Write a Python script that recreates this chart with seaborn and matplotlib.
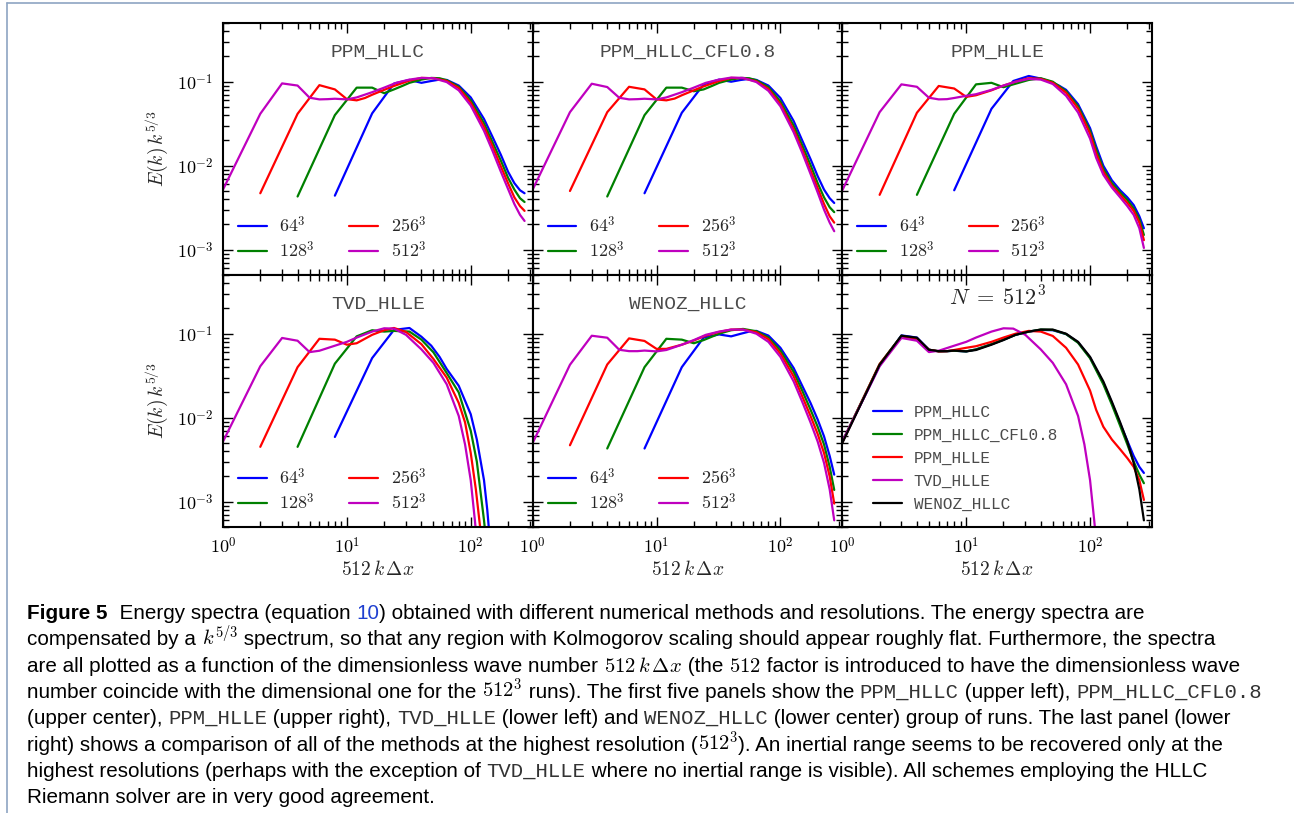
import numpy as np
import pandas as pd
import matplotlib
matplotlib.use("Agg")
import matplotlib.pyplot as plt
import seaborn as sns
from matplotlib.ticker import LogLocator, FuncFormatter, NullFormatter
from matplotlib.font_manager import FontProperties
from matplotlib.lines import Line2D

# ---------------------------------------------------------------------------
# Compensated energy spectra E(k) k^(5/3) versus 512 k dx
# ---------------------------------------------------------------------------

# PPM_HLLC
hllc_k64 = [8, 16, 24, 32, 40, 48, 56, 64, 80, 100, 128, 150, 175, 200, 225, 250, 272]
hllc_e64 = [0.0044, 0.042, 0.095, 0.105, 0.097, 0.102, 0.106, 0.105, 0.09, 0.065, 0.036, 0.022, 0.0135, 0.0085, 0.0062, 0.0051, 0.0047]
hllc_k128 = [4, 8, 12, 16, 20, 24, 28, 32, 40, 48, 56, 64, 80, 100, 128, 150, 175, 200, 225, 250, 272]
hllc_e128 = [0.0043, 0.040, 0.085, 0.085, 0.073, 0.081, 0.089, 0.097, 0.106, 0.111, 0.110, 0.104, 0.087, 0.06, 0.032, 0.019, 0.0115, 0.0072, 0.0052, 0.0041, 0.0037]
hllc_k256 = [2, 4, 6, 8, 10, 12, 14, 16, 20, 24, 32, 40, 50, 64, 80, 100, 128, 150, 175, 200, 225, 250, 272]
hllc_e256 = [0.0047, 0.0415, 0.091, 0.081, 0.062, 0.06, 0.064, 0.07, 0.08, 0.089, 0.103, 0.111, 0.11, 0.102, 0.084, 0.056, 0.029, 0.017, 0.0098, 0.0062, 0.0042, 0.0033, 0.0029]
hllc_k512 = [1, 2, 3, 4, 5, 6, 7, 8, 10, 12, 16, 20, 25, 32, 40, 50, 64, 80, 100, 128, 150, 175, 200, 225, 250, 272]
hllc_e512 = [0.0052, 0.0415, 0.0955, 0.090, 0.0645, 0.0616, 0.062, 0.0627, 0.0616, 0.065, 0.075, 0.085, 0.097, 0.106, 0.111, 0.11, 0.099, 0.079, 0.052, 0.026, 0.015, 0.0085, 0.0053, 0.0035, 0.0026, 0.0022]

# PPM_HLLC_CFL0.8
cfl_k64 = [8, 16, 24, 32, 40, 48, 56, 64, 80, 100, 128, 150, 175, 200, 225, 250, 272]
cfl_e64 = [0.0047, 0.0427, 0.093, 0.106, 0.1, 0.105, 0.108, 0.105, 0.09, 0.064, 0.034, 0.02, 0.012, 0.0075, 0.0052, 0.0041, 0.0036]
cfl_k128 = [4, 8, 12, 16, 20, 24, 28, 32, 40, 48, 56, 64, 80, 100, 128, 150, 175, 200, 225, 250, 272]
cfl_e128 = [0.0043, 0.040, 0.085, 0.085, 0.077, 0.081, 0.089, 0.097, 0.106, 0.111, 0.11, 0.104, 0.086, 0.058, 0.03, 0.0175, 0.0102, 0.0062, 0.0042, 0.0032, 0.0028]
cfl_k256 = [2, 4, 6, 8, 10, 12, 14, 16, 20, 24, 32, 40, 50, 64, 80, 100, 128, 150, 175, 200, 225, 250, 272]
cfl_e256 = [0.005, 0.0434, 0.087, 0.081, 0.0616, 0.06, 0.063, 0.069, 0.079, 0.088, 0.102, 0.111, 0.11, 0.101, 0.082, 0.054, 0.027, 0.0155, 0.0088, 0.0054, 0.0035, 0.0025, 0.0021]
cfl_k512 = [1, 2, 3, 4, 5, 6, 7, 8, 10, 12, 16, 20, 25, 32, 40, 50, 64, 80, 100, 128, 150, 175, 200, 225, 250, 272]
cfl_e512 = [0.0052, 0.0434, 0.0946, 0.0864, 0.0644, 0.0616, 0.062, 0.0627, 0.0616, 0.065, 0.075, 0.085, 0.097, 0.106, 0.112, 0.111, 0.099, 0.078, 0.051, 0.025, 0.0143, 0.008, 0.0048, 0.003, 0.0021, 0.00166]

# PPM_HLLE
hlle_k64 = [8, 16, 24, 32, 40, 48, 56, 64, 80, 100, 112, 128, 150, 175, 200, 225, 250, 272]
hlle_e64 = [0.0051, 0.0476, 0.102, 0.117, 0.109, 0.1, 0.09, 0.08, 0.054, 0.028, 0.017, 0.01, 0.0067, 0.0051, 0.0042, 0.0034, 0.0025, 0.0018]
hlle_k128 = [4, 8, 12, 16, 20, 24, 32, 40, 50, 64, 80, 100, 112, 128, 150, 175, 200, 225, 250, 272]
hlle_e128 = [0.0045, 0.0415, 0.093, 0.097, 0.086, 0.093, 0.105, 0.11, 0.1, 0.077, 0.051, 0.026, 0.0155, 0.0092, 0.0062, 0.0048, 0.0039, 0.0031, 0.0023, 0.0015]
hlle_k256 = [2, 4, 6, 8, 10, 12, 16, 20, 25, 32, 40, 50, 64, 80, 100, 112, 128, 150, 175, 200, 225, 250, 272]
hlle_e256 = [0.0045, 0.0427, 0.089, 0.083, 0.066, 0.069, 0.079, 0.09, 0.1, 0.11, 0.108, 0.097, 0.074, 0.048, 0.024, 0.014, 0.0085, 0.0058, 0.0045, 0.0036, 0.0029, 0.0021, 0.0013]
hlle_k512 = [1, 2, 3, 4, 5, 6, 7, 8, 10, 12, 16, 20, 25, 32, 40, 50, 64, 80, 100, 112, 128, 150, 175, 200, 225, 250, 272]
hlle_e512 = [0.0051, 0.0434, 0.093, 0.087, 0.0645, 0.0616, 0.062, 0.064, 0.068, 0.071, 0.08, 0.09, 0.1, 0.108, 0.106, 0.094, 0.068, 0.043, 0.021, 0.0124, 0.0078, 0.0055, 0.0042, 0.0033, 0.0026, 0.0018, 0.00105]

# TVD_HLLE
tvd_k64 = [8, 16, 24, 32, 40, 48, 56, 64, 80, 100, 112, 128, 136, 144]
tvd_e64 = [0.0059, 0.0513, 0.111, 0.117, 0.092, 0.072, 0.053, 0.038, 0.024, 0.011, 0.0055, 0.0018, 0.0008, 0.0003]
tvd_k128 = [4, 8, 12, 16, 20, 24, 32, 40, 50, 64, 80, 100, 112, 128, 136]
tvd_e128 = [0.0045, 0.044, 0.093, 0.11, 0.106, 0.108, 0.106, 0.085, 0.06, 0.034, 0.02, 0.007, 0.003, 0.0006, 0.00025]
tvd_k256 = [2, 4, 6, 8, 10, 12, 16, 20, 24, 30, 40, 50, 64, 80, 90, 100, 110, 120, 128]
tvd_e256 = [0.0045, 0.040, 0.087, 0.085, 0.074, 0.077, 0.097, 0.11, 0.117, 0.105, 0.075, 0.05, 0.03, 0.015, 0.0088, 0.0038, 0.0014, 0.00045, 0.00015]
tvd_k512 = [1, 2, 3, 4, 5, 6, 8, 10, 12, 16, 20, 24, 30, 40, 50, 64, 80, 90, 100, 108, 116]
tvd_e512 = [0.0052, 0.041, 0.089, 0.0825, 0.0604, 0.0627, 0.072, 0.08, 0.09, 0.106, 0.116, 0.115, 0.097, 0.065, 0.045, 0.025, 0.0105, 0.0048, 0.0018, 0.0006, 0.0002]

# WENOZ_HLLC
weno_k64 = [8, 16, 24, 32, 40, 48, 56, 64, 80, 100, 128, 150, 175, 200, 225, 250, 272]
weno_e64 = [0.0043, 0.040, 0.09, 0.098, 0.093, 0.1, 0.106, 0.108, 0.095, 0.068, 0.039, 0.024, 0.015, 0.0095, 0.006, 0.0035, 0.0021]
weno_k128 = [4, 8, 12, 16, 20, 24, 32, 40, 50, 64, 80, 100, 128, 150, 175, 200, 225, 250, 272]
weno_e128 = [0.0043, 0.040, 0.087, 0.085, 0.077, 0.084, 0.1, 0.11, 0.114, 0.107, 0.09, 0.063, 0.035, 0.021, 0.0125, 0.0078, 0.0048, 0.0026, 0.00138]
weno_k256 = [2, 4, 6, 8, 10, 12, 16, 20, 25, 32, 40, 50, 64, 80, 100, 128, 150, 175, 200, 225, 250, 272]
weno_e256 = [0.0047, 0.043, 0.088, 0.082, 0.066, 0.066, 0.074, 0.083, 0.095, 0.105, 0.112, 0.112, 0.104, 0.086, 0.058, 0.031, 0.018, 0.0105, 0.0064, 0.0038, 0.002, 0.00095]
weno_k512 = [1, 2, 3, 4, 5, 6, 7, 8, 10, 12, 16, 20, 25, 32, 40, 50, 64, 80, 100, 128, 150, 175, 200, 225, 250, 272]
weno_e512 = [0.005, 0.0427, 0.0946, 0.0896, 0.0644, 0.062, 0.062, 0.063, 0.0616, 0.064, 0.074, 0.084, 0.097, 0.106, 0.112, 0.112, 0.1, 0.08, 0.053, 0.027, 0.0155, 0.0088, 0.0052, 0.0029, 0.0014, 0.0006]

res_labels = [r"$64^3$", r"$128^3$", r"$256^3$", r"$512^3$"]
res_colors = ["#0000ff", "#008000", "#ff0000", "#bf00bf"]
method_names = ["PPM_HLLC", "PPM_HLLC_CFL0.8", "PPM_HLLE", "TVD_HLLE", "WENOZ_HLLC"]
method_colors = ["#0000ff", "#008000", "#ff0000", "#bf00bf", "#000000"]

method_runs = [
    [(hllc_k64, hllc_e64), (hllc_k128, hllc_e128), (hllc_k256, hllc_e256), (hllc_k512, hllc_e512)],
    [(cfl_k64, cfl_e64), (cfl_k128, cfl_e128), (cfl_k256, cfl_e256), (cfl_k512, cfl_e512)],
    [(hlle_k64, hlle_e64), (hlle_k128, hlle_e128), (hlle_k256, hlle_e256), (hlle_k512, hlle_e512)],
    [(tvd_k64, tvd_e64), (tvd_k128, tvd_e128), (tvd_k256, tvd_e256), (tvd_k512, tvd_e512)],
    [(weno_k64, weno_e64), (weno_k128, weno_e128), (weno_k256, weno_e256), (weno_k512, weno_e512)],
]

# ---------------------------------------------------------------------------
sns.set_theme(style="ticks")
plt.rcParams.update({
    "font.family": ["DejaVu Serif"],
    "mathtext.fontset": "cm",
    "axes.linewidth": 1.5,
    "axes.edgecolor": "black",
    "xtick.color": "black",
    "ytick.color": "black",
    "xtick.labelsize": 13,
    "ytick.labelsize": 13,
})

W, H = 1294, 813
fig, axes = plt.subplots(2, 3, figsize=(W / 100, H / 100), dpi=100, sharex=True, sharey=True)
fig.subplots_adjust(left=223 / W, right=1152 / W, top=1 - 23 / H, bottom=1 - 527 / H,
                    wspace=0, hspace=0)

TT = "Liberation Mono"
TT_COLOR = "#4a4a4a"


def draw_curves(ax, curves, labels, colors):
    frames = [pd.DataFrame({"k": k, "E": e, "run": lab}) for (k, e), lab in zip(curves, labels)]
    df = pd.concat(frames, ignore_index=True)
    sns.lineplot(data=df, x="k", y="E", hue="run", hue_order=labels,
                 palette=dict(zip(labels, colors)), sort=False, estimator=None,
                 legend=False, linewidth=1.6, ax=ax)
    return ax.lines[-len(labels):]


def log_label(v, pos):
    return r"$10^{%d}$" % int(round(np.log10(v)))


flat = axes.ravel()
for i, ax in enumerate(flat):
    if i < 5:
        handles = draw_curves(ax, method_runs[i], res_labels, res_colors)
        ax.text(0.5, 0.885, method_names[i], transform=ax.transAxes, ha="center",
                va="center", family=TT, color=TT_COLOR, fontsize=14)
        ax.legend(handles, res_labels, ncol=2, loc="lower left", bbox_to_anchor=(0.048, 0.055),
                  frameon=False, fontsize=13, handlelength=1.6, handletextpad=0.7,
                  columnspacing=1.9, labelspacing=0.25, borderpad=0, borderaxespad=0)
    else:
        best = [runs[3] for runs in method_runs]
        handles = draw_curves(ax, best, method_names, method_colors)
        ax.text(0.5, 0.905, r"$N\;=\;512^3$", transform=ax.transAxes, ha="center",
                va="center", fontsize=16)
        ax.legend(handles, method_names, loc="lower left", bbox_to_anchor=(0.099, 0.06),
                  frameon=False, prop=FontProperties(family=TT, size=11.5), labelcolor=TT_COLOR,
                  handlelength=1.8, handletextpad=0.75, labelspacing=0.5,
                  borderpad=0, borderaxespad=0)

    ax.set_xscale("log")
    ax.set_yscale("log")
    ax.set_xlim(1, 10 ** 2.5)
    ax.set_ylim(5e-4, 0.5)
    ax.set_xlabel("")
    ax.set_ylabel("")
    for axis in (ax.xaxis, ax.yaxis):
        axis.set_major_locator(LogLocator(base=10))
        axis.set_minor_locator(LogLocator(base=10, subs=np.arange(2, 10)))
        axis.set_major_formatter(FuncFormatter(log_label))
        axis.set_minor_formatter(NullFormatter())
    ax.tick_params(which="both", direction="in", top=True, right=True, width=1.0)
    ax.tick_params(which="major", length=7.5, pad=7)
    ax.tick_params(which="minor", length=4.5)
    for sp in ax.spines.values():
        sp.set_linewidth(1.5)

for ax in axes[:, 0]:
    ax.set_ylabel(r"$E(k)\,k^{5/3}$", fontsize=14)
    ax.yaxis.set_label_coords(-0.17, 0.5)
for ax in axes[1, :]:
    ax.set_xlabel(r"$512\,k\,\Delta x$", fontsize=14)
    ax.xaxis.set_label_coords(0.5, -0.13)

# page frame
frame_c = "#8ea4c2"
fig.add_artist(Line2D([7 / W, 7 / W], [0, 1 - 3 / H], transform=fig.transFigure, color=frame_c, lw=1.2))
fig.add_artist(Line2D([7 / W, 1], [1 - 3 / H, 1 - 3 / H], transform=fig.transFigure, color=frame_c, lw=1.2))

# ---------------------------------------------------------------------------
# caption, set piece by piece so that roman, math and typewriter runs mix
fig.canvas.draw()
renderer = fig.canvas.get_renderer()
CAP_SIZE = 14.9
styles = {
    "b": dict(family="Liberation Sans", weight="bold", color="black"),
    "n": dict(family="Liberation Sans", color="black"),
    "a": dict(family="Liberation Sans", color="#2040d0"),
    "t": dict(family=TT, color="#333333"),
    "m": dict(family="DejaVu Serif", color="black"),
}
caption = [
    [("b", "Figure 5"), ("n", "  Energy spectra (equation "), ("a", "10"),
     ("n", ") obtained with different numerical methods and resolutions. The energy spectra are")],
    [("n", "compensated by a "), ("m", r"$k^{5/3}$"),
     ("n", " spectrum, so that any region with Kolmogorov scaling should appear roughly flat. Furthermore, the spectra")],
    [("n", "are all plotted as a function of the dimensionless wave number "), ("m", r"$512\,k\,\Delta x$"),
     ("n", " (the "), ("m", r"$512$"), ("n", " factor is introduced to have the dimensionless wave")],
    [("n", "number coincide with the dimensional one for the "), ("m", r"$512^3$"),
     ("n", " runs). The first five panels show the "), ("t", "PPM_HLLC"), ("n", " (upper left), "),
     ("t", "PPM_HLLC_CFL0.8")],
    [("n", "(upper center), "), ("t", "PPM_HLLE"), ("n", " (upper right), "), ("t", "TVD_HLLE"),
     ("n", " (lower left) and "), ("t", "WENOZ_HLLC"), ("n", " (lower center) group of runs. The last panel (lower")],
    [("n", "right) shows a comparison of all of the methods at the highest resolution ("), ("m", r"$512^3$"),
     ("n", "). An inertial range seems to be recovered only at the")],
    [("n", "highest resolutions (perhaps with the exception of "), ("t", "TVD_HLLE"),
     ("n", " where no inertial range is visible). All schemes employing the HLLC")],
    [("n", "Riemann solver are in very good agreement.")],
]


def advance(kind, s):
    st = styles[kind]
    prop = FontProperties(family=st["family"], weight=st.get("weight", "normal"), size=CAP_SIZE)
    if kind == "m":
        w, _, _ = renderer.get_text_width_height_descent(s, prop, ismath=True)
        return w
    w1, _, _ = renderer.get_text_width_height_descent("x" + s + "x", prop, ismath=False)
    w0, _, _ = renderer.get_text_width_height_descent("xx", prop, ismath=False)
    return w1 - w0


for i, line in enumerate(caption):
    x = 27.0
    y = 619 + 26.3 * i
    for kind, s in line:
        fig.text(x / W, 1 - y / H, s, ha="left", va="baseline", fontsize=CAP_SIZE, **styles[kind])
        x += advance(kind, s)

fig.savefig("out.png", dpi=100, facecolor="white")
